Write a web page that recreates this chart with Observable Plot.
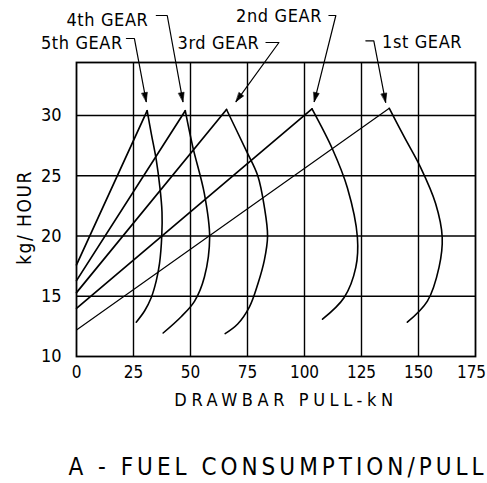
<!DOCTYPE html>
<html>
<head>
<meta charset="utf-8">
<script src="https://cdn.jsdelivr.net/npm/d3@7"></script>
<script src="https://cdn.jsdelivr.net/npm/@observablehq/plot@0.6"></script>
<style>
  html, body { margin: 0; padding: 0; background: #fff; }
</style>
</head>
<body>
<div id="chart"></div>
<script>
// ---- data ----
const gears = ["1st GEAR", "2nd GEAR", "3rd GEAR", "4th GEAR", "5th GEAR"];
// straight rising line: starts at x = 0 with this fuel rate, ends at the peak
const lineStartY = [12.2, 14.0, 15.3, 16.3, 17.6];
const peakX = [137.2, 103.3, 65.8, 47.7, 31.0];
const peakY = [30.6, 30.55, 30.5, 30.4, 30.4];
// falling curve after the peak (drawbar pull kN, fuel kg/hour)
const dropX = [
  [137.2, 143.8, 150.9, 157.5, 160.4, 159.0, 153.9, 145.1],
  [103.3, 112.3, 118.8, 123.2, 122.5, 117.4, 107.9],
  [65.8, 74.4, 79.5, 82.4, 83.8, 82.4, 79.5, 75.8, 70.7, 65.2],
  [47.7, 51.0, 56.1, 58.4, 56.1, 51.8, 45.9, 38.0],
  [31.0, 32.8, 35.0, 36.6, 37.5, 37.4, 36.4, 35.0, 32.8, 29.9, 26.2]
];
const dropY = [
  [30.6, 28.2, 25.7, 22.7, 19.9, 17.4, 14.6, 12.85],
  [30.55, 27.2, 24.0, 19.9, 17.4, 14.9, 13.1],
  [30.5, 27.1, 25.0, 22.4, 20.0, 18.0, 16.0, 14.1, 12.7, 11.9],
  [30.4, 27.4, 23.5, 19.9, 16.6, 14.6, 13.3, 11.95],
  [30.4, 28.5, 26.3, 24.0, 22.0, 20.0, 17.7, 16.3, 14.9, 13.8, 12.85]
];
const xTicks = [0, 25, 50, 75, 100, 125, 150, 175];
const yTicks = [10, 15, 20, 25, 30];
const xLabel = "DRAWBAR PULL-kN";
const yLabel = "kg/ HOUR";
const title = "A - FUEL CONSUMPTION/PULL";

// ---- annotation layout (label + leader with arrow), in data units ----
const annot = [
  {g: 0, tx: 134.0, ty: 35.64, leader: [[126.9, 36.2], [130.4, 36.2], [135.6, 31.1]]},
  {g: 1, tx: 70.0,  ty: 37.72, leader: [[110.7, 38.3], [113.75, 38.3], [104.3, 31.16]]},
  {g: 2, tx: 44.3,  ty: 35.56, leader: [[83.1, 36.06], [88.8, 36.06], [70.0, 31.16]]},
  {g: 3, tx: -4.4,  ty: 37.47, leader: [[35.0, 38.3], [39.8, 38.3], [46.7, 31.16]]},
  {g: 4, tx: -15.6, ty: 35.56, leader: [[21.9, 36.39], [25.4, 36.39], [30.6, 31.16]]}
];

// ---- build tables ----
const rising = gears.flatMap((g, i) => [
  {gear: g, x: 0, y: lineStartY[i]},
  {gear: g, x: peakX[i], y: peakY[i]}
]);
const falling = gears.flatMap((g, i) => dropX[i].map((x, j) => ({gear: g, x, y: dropY[i][j]})));
const leaders = annot.flatMap(a => a.leader.map(([x, y]) => ({gear: gears[a.g], x, y})));

const W = 487, H = 483;
const M = {top: 62, right: 12, bottom: 127, left: 76};
const xDomain = [0, 175], yDomain = [10, 34.4];
const sx = Plot.scale({x: {domain: xDomain, range: [M.left, W - M.right]}});
const sy = Plot.scale({y: {domain: yDomain, range: [H - M.bottom, M.top]}});
const arrows = annot.map(a => {
  const [p, q] = [a.leader[1], a.leader[2]];
  const dx = sx.apply(q[0]) - sx.apply(p[0]);
  const dy = sy.apply(q[1]) - sy.apply(p[1]);
  return {x: q[0], y: q[1], rotate: Math.atan2(dx, -dy) * 180 / Math.PI};
});
const headShape = {
  draw(ctx, l) {
    ctx.moveTo(0, -l);
    ctx.lineTo(-2.8, 0);
    ctx.lineTo(2.8, 0);
    ctx.closePath();
  }
};

const font = "'DejaVu Sans Condensed', 'DejaVu Sans', sans-serif";

const chart = Plot.plot({
  width: W,
  height: H,
  marginTop: M.top,
  marginRight: M.right,
  marginBottom: M.bottom,
  marginLeft: M.left,
  style: {fontFamily: font, fontSize: "17px", background: "#fff", color: "#000", overflow: "visible"},
  x: {domain: xDomain, label: null},
  y: {domain: yDomain, label: null},
  marks: [
    Plot.gridX(xTicks.slice(1, -1), {stroke: "#000", strokeOpacity: 1, strokeWidth: 1.4}),
    Plot.gridY(yTicks.slice(1), {stroke: "#000", strokeOpacity: 1, strokeWidth: 1.4}),
    Plot.frame({stroke: "#000", strokeWidth: 1.8}),
    Plot.axisX(xTicks.slice(0, -1), {tickSize: 0, tickPadding: 9, label: null, fill: "#000"}),
    Plot.axisX(xTicks.slice(-1), {tickSize: 0, tickPadding: 9, label: null, fill: "#000", dx: -4}),
    Plot.axisY(yTicks, {tickSize: 0, tickPadding: 15, label: null, fill: "#000", fontSize: 18}),
    Plot.line(rising, {x: "x", y: "y", z: "gear", stroke: "#000",
      strokeWidth: d => d.gear === "1st GEAR" ? 1.15 : 1.7}),
    Plot.line(falling, {x: "x", y: "y", z: "gear", stroke: "#000", strokeWidth: 1.6, curve: "catmull-rom"}),
    Plot.line(leaders, {x: "x", y: "y", z: "gear", stroke: "#000", strokeWidth: 1.2}),
    Plot.vector(arrows, {x: "x", y: "y", rotate: "rotate", length: 9, anchor: "end",
      shape: headShape, fill: "#000", stroke: "#000", strokeWidth: 0.6}),
    Plot.text(annot, {x: "tx", y: "ty", text: a => gears[a.g], textAnchor: "start",
      lineAnchor: "bottom", fontSize: 18, fill: "#000"}),
    Plot.text([yLabel], {frameAnchor: "left", dx: -52, dy: 8, rotate: -90,
      textAnchor: "middle", lineAnchor: "middle", fontSize: 19, fill: "#000"}),
    Plot.text([xLabel], {frameAnchor: "bottom", dx: 10, dy: 44,
      textAnchor: "middle", lineAnchor: "middle", fontSize: 18, fill: "#000"}),
    Plot.text([title], {frameAnchor: "bottom", dx: 2, dy: 111,
      textAnchor: "middle", lineAnchor: "middle", fontSize: 24, fill: "#000"})
  ]
});

d3.select(chart).selectAll("text").each(function () {
  const t = this.textContent;
  if (t === title) d3.select(this).attr("letter-spacing", "4px");
  else if (t === xLabel) d3.select(this).attr("letter-spacing", "4.6px");
  else if (gears.includes(t)) d3.select(this).attr("letter-spacing", "0.6px");
  else if (t === yLabel) d3.select(this).attr("letter-spacing", "1.5px");
});

document.getElementById("chart").appendChild(chart);
</script>
</body>
</html>
